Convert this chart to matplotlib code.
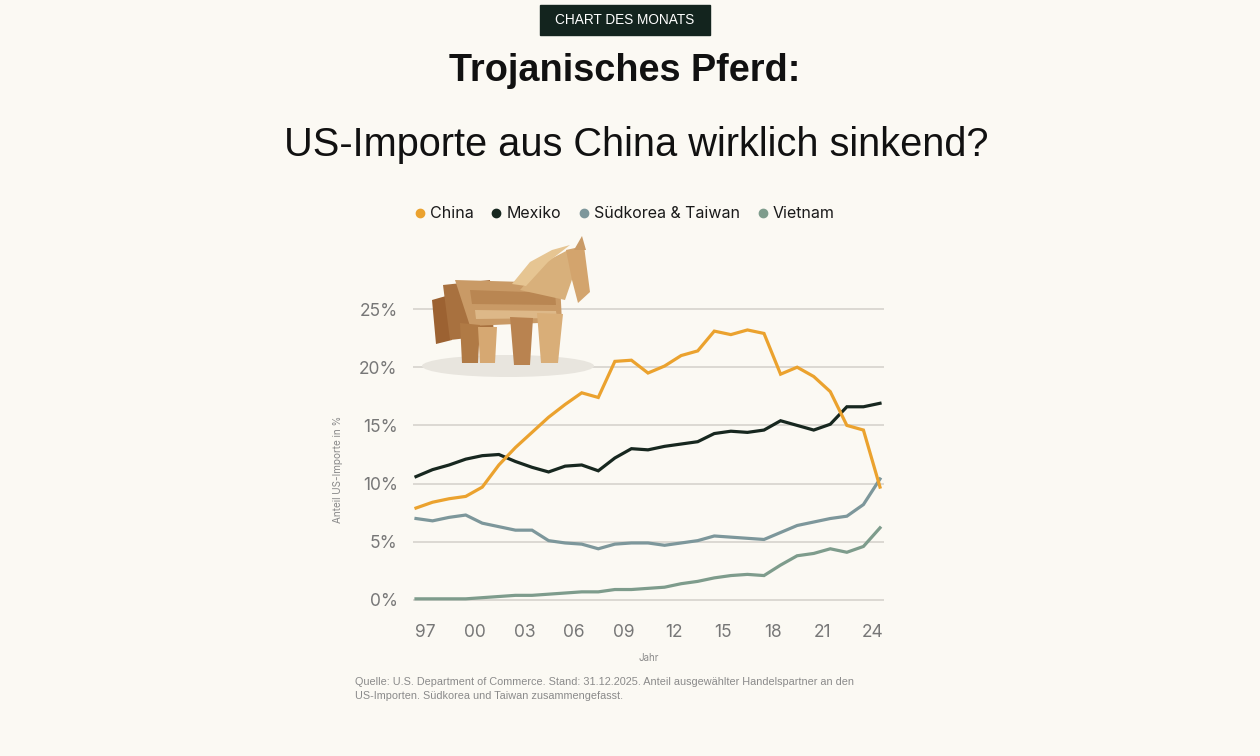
import matplotlib
matplotlib.use("Agg")
import matplotlib.pyplot as plt
from matplotlib.lines import Line2D
from matplotlib.patches import Rectangle, Ellipse, Polygon

# Anteil ausgewaehlter Handelspartner an den US-Importen, 1997-2025

YEARS = list(range(1997, 2026))
CHINA = [7.9, 8.4, 8.7, 8.9, 9.7, 11.6, 13.1, 14.4, 15.7, 16.8, 17.8, 17.4, 20.5,
         20.6, 19.5, 20.1, 21.0, 21.4, 23.1, 22.8, 23.2, 22.9, 19.4, 20.0, 19.2,
         17.9, 15.0, 14.6, 9.7]
MEXIKO = [10.6, 11.2, 11.6, 12.1, 12.4, 12.5, 11.9, 11.4, 11.0, 11.5, 11.6, 11.1,
          12.2, 13.0, 12.9, 13.2, 13.4, 13.6, 14.3, 14.5, 14.4, 14.6, 15.4, 15.0,
          14.6, 15.1, 16.6, 16.6, 16.9]
SKOREA_TAIWAN = [7.0, 6.8, 7.1, 7.3, 6.6, 6.3, 6.0, 6.0, 5.1, 4.9, 4.8, 4.4, 4.8,
                 4.9, 4.9, 4.7, 4.9, 5.1, 5.5, 5.4, 5.3, 5.2, 5.8, 6.4, 6.7, 7.0,
                 7.2, 8.2, 10.4]
VIETNAM = [0.1, 0.1, 0.1, 0.1, 0.2, 0.3, 0.4, 0.4, 0.5, 0.6, 0.7, 0.7, 0.9, 0.9,
           1.0, 1.1, 1.4, 1.6, 1.9, 2.1, 2.2, 2.1, 3.0, 3.8, 4.0, 4.4, 4.1, 4.6, 6.2]

X_TICKS = [1997, 2000, 2003, 2006, 2009, 2012, 2015, 2018, 2021, 2024]
X_LABELS = ["97", "00", "03", "06", "09", "12", "15", "18", "21", "24"]
Y_TICKS = [0, 5, 10, 15, 20, 25]
Y_LABELS = ["0%", "5%", "10%", "15%", "20%", "25%"]

BG = "#FBF9F3"
C_CHINA = "#EBA22E"
C_MEX = "#17271F"
C_SKT = "#7D979B"
C_VN = "#7E9C8C"
GRID = "#DCD9D3"
TICK = "#777777"
SMALL = "#8A8A8A"

W, H = 1260, 756


def px(x, y):
    # pixel position (top-left origin) -> figure fraction
    return x / W, 1 - y / H


fig = plt.figure(figsize=(12.6, 7.56), dpi=100, facecolor=BG)

# main axes
ax = fig.add_axes([413 / W, 1 - 605 / H, 471 / W, 305 / H])
ax.set_facecolor(BG)
ax.set_xlim(1997 - 3 / 16.57, 2025 + 4 / 16.57)
ax.set_ylim(-5 / 11.64, 25 + 9 / 11.64)
for s in ax.spines.values():
    s.set_visible(False)
for yv in Y_TICKS:
    ax.axhline(yv, color=GRID, lw=1.4, zorder=1)

lw = 2.3
ax.plot(YEARS, VIETNAM, color=C_VN, lw=lw, zorder=3, solid_joinstyle="miter")
ax.plot(YEARS, SKOREA_TAIWAN, color=C_SKT, lw=lw, zorder=3, solid_joinstyle="miter")
ax.plot(YEARS, MEXIKO, color=C_MEX, lw=lw, zorder=4, solid_joinstyle="miter")
ax.plot(YEARS, CHINA, color=C_CHINA, lw=lw, zorder=5, solid_joinstyle="miter")

# tick labels sit about half a year right of the data points in the original
ax.set_xticks([t + 0.55 for t in X_TICKS])
ax.set_xticklabels(X_LABELS)
ax.set_yticks(Y_TICKS)
ax.set_yticklabels(Y_LABELS)
ax.tick_params(axis="both", length=0, colors=TICK, labelsize=12.5)
ax.tick_params(axis="y", pad=11)
ax.tick_params(axis="x", pad=14)
for lab in ax.get_xticklabels() + ax.get_yticklabels():
    lab.set_fontfamily("Inter")

ax.set_ylabel("Anteil US-Importe in %", fontsize=7.2, color=SMALL, family="Inter")
ax.yaxis.set_label_coords(-0.149, 0.446)
ax.set_xlabel("Jahr", fontsize=7, color=SMALL, family="Inter")
ax.xaxis.set_label_coords(0.501, -0.158)

# legend above the chart
handles = [
    Line2D([], [], ls="none", marker="o", ms=6, color=C_CHINA, label="China"),
    Line2D([], [], ls="none", marker="o", ms=6, color=C_MEX, label="Mexiko"),
    Line2D([], [], ls="none", marker="o", ms=6, color=C_SKT, label="Südkorea & Taiwan"),
    Line2D([], [], ls="none", marker="o", ms=6, color=C_VN, label="Vietnam"),
]
fig.legend(handles=handles, loc="center", bbox_to_anchor=px(625, 214), ncol=4,
           frameon=False, handlelength=0.6, handletextpad=0.35, columnspacing=1.1,
           prop={"family": "Inter", "size": 11.5}, labelcolor="#1A1A1A")

# header
fig.patches.append(Rectangle(px(540, 35), 170 / W, 30 / H, transform=fig.transFigure,
                             color="#13241E", zorder=0))
fig.text(*px(625, 20), "CHART DES MONATS", ha="center", va="center", color="white",
         fontsize=9.8, family="Liberation Sans")
fig.text(*px(625, 71), "Trojanisches Pferd:", ha="center", va="center", color="#111111",
         fontsize=27.3, fontweight="bold", family="Liberation Sans")
fig.text(*px(636, 145), "US-Importe aus China wirklich sinkend?", ha="center", va="center",
         color="#111111", fontsize=28.6, family="Liberation Sans")

# footnote
fig.text(*px(355, 677), "Quelle: U.S. Department of Commerce. Stand: 31.12.2025. Anteil "
         "ausgewählter Handelspartner an den\nUS-Importen. Südkorea und Taiwan zusammengefasst.",
         ha="left", va="top", color=SMALL, fontsize=7.85, linespacing=1.5,
         family="Liberation Sans")

# wooden horse illustration, drawn roughly with polygons in pixel space
hx = fig.add_axes([0, 0, 1, 1], facecolor="none", zorder=6)
hx.set_xlim(0, W)
hx.set_ylim(H, 0)
hx.axis("off")


def poly(pts, col):
    hx.add_patch(Polygon(pts, closed=True, fc=col, ec="none"))


hx.add_patch(Ellipse((508, 366), 172, 22, fc="#E8E5DE", ec="none"))
poly([(432, 300), (446, 296), (452, 340), (436, 344)], "#9C6232")           # tail
poly([(443, 285), (490, 280), (494, 335), (450, 340)], "#A8713F")           # hindquarters
poly([(455, 280), (560, 283), (562, 322), (470, 326)], "#C99A66")           # body
poly([(470, 290), (555, 293), (556, 305), (472, 304)], "#B98652")           # plank
poly([(475, 310), (556, 311), (557, 318), (476, 319)], "#DDB888")           # plank
poly([(520, 290), (545, 262), (568, 250), (578, 262), (565, 300)], "#D8B07B")  # neck
poly([(512, 284), (530, 262), (552, 250), (570, 245), (548, 262), (526, 286)], "#E6C592")  # mane
poly([(566, 250), (584, 246), (590, 292), (578, 303), (572, 280)], "#D3A46D")  # head
poly([(574, 250), (582, 236), (586, 250)], "#C99A66")                       # ear
poly([(460, 323), (480, 325), (478, 363), (462, 363)], "#B07A45")           # rear leg
poly([(478, 327), (497, 327), (495, 363), (480, 363)], "#D6A872")           # rear leg
poly([(510, 317), (533, 318), (530, 365), (514, 365)], "#B98350")           # front leg
poly([(537, 313), (563, 314), (558, 363), (541, 363)], "#D9AE78")           # front leg

fig.savefig("out.png", dpi=100, facecolor=BG)
